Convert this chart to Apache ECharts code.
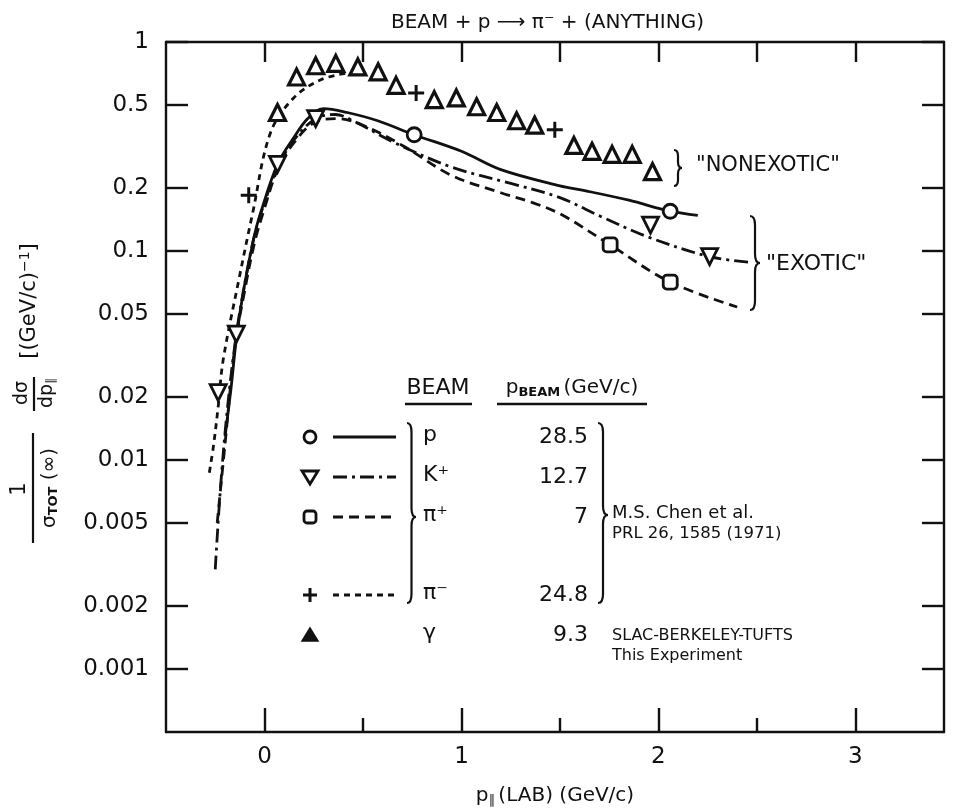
<!DOCTYPE html>
<html><head><meta charset="utf-8">
<script src="https://cdn.jsdelivr.net/npm/echarts@6/dist/echarts.min.js"></script>
<style>html,body{margin:0;padding:0;background:#fff}#c{width:958px;height:811px}</style>
</head><body><div id="c"></div>
<script>
// ---------------- data ----------------
const yTicks = [0.001, 0.002, 0.005, 0.01, 0.02, 0.05, 0.1, 0.2, 0.5, 1];
const xMajor = [0, 1, 2, 3];
const xMinor = [0.5, 1.5, 2.5];
const xTop = [0, 0.5, 1, 1.5, 2, 2.5, 3];

// data points (markers)
const pX = [0.76, 2.06];
const pY = [0.36, 0.155];
const kX = [-0.235, -0.143, 0.066, 0.26, 1.96, 2.26];
const kY = [0.021, 0.04, 0.26, 0.43, 0.133, 0.094];
const pipX = [1.755, 2.06];
const pipY = [0.107, 0.071];
const pimX = [-0.08, 0.77, 1.474];
const pimY = [0.185, 0.57, 0.38];
const gX = [0.066, 0.163, 0.26, 0.362, 0.474, 0.577, 0.668, 0.862, 0.974, 1.077, 1.179, 1.28, 1.372, 1.571, 1.663, 1.765, 1.867, 1.97];
const gY = [0.46, 0.68, 0.77, 0.79, 0.76, 0.72, 0.62, 0.53, 0.54, 0.49, 0.46, 0.42, 0.40, 0.32, 0.30, 0.29, 0.29, 0.24];

// fitted curves
const pCurveX = [-0.2, -0.17, -0.14, -0.1, -0.05, -0.02, 0.066, 0.15, 0.22, 0.3, 0.42, 0.575, 0.76, 1.0, 1.2, 1.5, 1.62, 1.85, 2.06, 2.2];
const pCurveY = [0.013, 0.022, 0.04, 0.07, 0.12, 0.152, 0.26, 0.35, 0.43, 0.48, 0.46, 0.42, 0.36, 0.30, 0.245, 0.205, 0.195, 0.175, 0.155, 0.148];
const kCurveX = [-0.25, -0.224, -0.19, -0.143, -0.1, -0.05, 0.0, 0.066, 0.15, 0.26, 0.36, 0.45, 0.66, 0.95, 1.255, 1.5, 1.71, 1.945, 2.26, 2.48];
const kCurveY = [0.003, 0.0072, 0.017, 0.04, 0.07, 0.12, 0.17, 0.25, 0.34, 0.43, 0.45, 0.42, 0.33, 0.252, 0.21, 0.18, 0.146, 0.117, 0.094, 0.088];
const pipCurveX = [-0.24, -0.2, -0.15, -0.1, -0.05, 0.0, 0.07, 0.15, 0.25, 0.37, 0.5, 0.7, 0.95, 1.2, 1.364, 1.51, 1.755, 2.06, 2.4];
const pipCurveY = [0.005, 0.012, 0.035, 0.065, 0.11, 0.16, 0.25, 0.33, 0.41, 0.43, 0.40, 0.32, 0.23, 0.19, 0.17, 0.149, 0.107, 0.071, 0.054];
const pimCurveX = [-0.28, -0.26, -0.235, -0.21, -0.13, -0.06, 0.03, 0.148, 0.286, 0.42];
const pimCurveY = [0.0087, 0.0115, 0.018, 0.030, 0.073, 0.152, 0.367, 0.54, 0.66, 0.71];

// legend table text
const beamNames = ['p', 'K⁺', 'π⁺', 'π⁻', 'γ'];
const beamMomenta = ['28.5', '12.7', '7', '24.8', '9.3'];

// ---------------- chart ----------------
const FONT = 'DejaVu Sans';
const INK = '#111';
const chart = echarts.init(document.getElementById('c'));

const pair = (xs, ys) => xs.map((x, i) => [x, ys[i]]);
function curve(xs, ys, dash) {
  return { type: 'line', data: pair(xs, ys), symbol: 'none', smooth: 0.35, silent: true,
    lineStyle: { color: INK, width: 2.8, type: dash }, z: 2 };
}
function marks(xs, ys, symbol, size, rotate, fill, bw) {
  return { type: 'scatter', data: pair(xs, ys), symbol, symbolSize: size, symbolRotate: rotate, silent: true,
    itemStyle: { color: fill, borderColor: INK, borderWidth: bw, opacity: 1 }, z: 5 };
}
const PLUS = 'path://M-1.3,-7 L1.3,-7 L1.3,-1.3 L7,-1.3 L7,1.3 L1.3,1.3 L1.3,7 L-1.3,7 L-1.3,1.3 L-7,1.3 L-7,-1.3 L-1.3,-1.3 Z';

function brace(x0, y1, y2, ym, w) {
  const xm = x0 + w / 2, r = Math.min(9, (ym - y1) / 3, (y2 - ym) / 3);
  const st = { stroke: INK, lineWidth: 2.2, fill: null };
  return [
    { type: 'bezierCurve', shape: { x1: x0, y1: y1, cpx1: xm, cpy1: y1, x2: xm, y2: y1 + r }, style: st },
    { type: 'line', shape: { x1: xm, y1: y1 + r, x2: xm, y2: ym - r }, style: st },
    { type: 'bezierCurve', shape: { x1: xm, y1: ym - r, cpx1: xm, cpy1: ym, x2: x0 + w, y2: ym }, style: st },
    { type: 'bezierCurve', shape: { x1: x0 + w, y1: ym, cpx1: xm, cpy1: ym, x2: xm, y2: ym + r }, style: st },
    { type: 'line', shape: { x1: xm, y1: ym + r, x2: xm, y2: y2 - r }, style: st },
    { type: 'bezierCurve', shape: { x1: xm, y1: y2 - r, cpx1: xm, cpy1: y2, x2: x0, y2: y2 }, style: st }
  ];
}
function txt(x, y, text, size, align, extra) {
  return Object.assign({ type: 'text', x, y, style: { text, fontSize: size, fontFamily: FONT, fill: INK,
    align: align || 'left', verticalAlign: 'middle' } }, extra || {});
}
function seg(x1, y1, x2, y2, dash, w) {
  return { type: 'line', shape: { x1, y1, x2, y2 }, style: { stroke: INK, lineWidth: w || 2.6, lineDash: dash } };
}

const rowsY = [437, 477, 517, 595, 635];
const dashes = [null, [14, 5, 3, 5], [10, 6], [6, 5]];
const g = [];
// legend header
g.push(txt(438, 388, 'BEAM', 22, 'center'));
g.push(seg(405, 404, 472, 404, null, 2.6));
g.push({ type: 'text', x: 572, y: 388, style: { text: '{a|p}{s|BEAM} {a|(GeV/c)}', fill: INK, align: 'center', verticalAlign: 'middle',
  rich: { a: { fontSize: 20, fontFamily: FONT, fill: INK }, s: { fontSize: 13, fontFamily: FONT, fill: INK, padding: [10, 0, 0, 0], fontWeight: 'bold' } } } });
g.push(seg(497, 404, 647, 404, null, 2.6));
// legend symbols
g.push({ type: 'circle', shape: { cx: 310, cy: rowsY[0], r: 6 }, style: { fill: '#fff', stroke: INK, lineWidth: 2.8 } });
g.push({ type: 'polygon', shape: { points: [[302, rowsY[1] - 6], [318, rowsY[1] - 6], [310, rowsY[1] + 7]] }, style: { fill: '#fff', stroke: INK, lineWidth: 2.8 } });
g.push({ type: 'rect', shape: { x: 304, y: rowsY[2] - 6, width: 12, height: 12, r: 3 }, style: { fill: '#fff', stroke: INK, lineWidth: 2.8 } });
g.push(seg(303, rowsY[3], 317, rowsY[3], null, 3));
g.push(seg(310, rowsY[3] - 7, 310, rowsY[3] + 7, null, 3));
g.push({ type: 'polygon', shape: { points: [[302, rowsY[4] + 6], [318, rowsY[4] + 6], [310, rowsY[4] - 7]] }, style: { fill: INK, stroke: INK, lineWidth: 1.5 } });
for (let i = 0; i < 4; i++) g.push(seg(333, rowsY[i], 396, rowsY[i], dashes[i], 2.8));
for (let i = 0; i < 5; i++) {
  g.push(txt(423, rowsY[i] - 2, beamNames[i], 22, 'left'));
  g.push(txt(588, rowsY[i], beamMomenta[i], 22, 'right'));
}
brace(407, 423, 603, 517, 9).forEach(e => g.push(e));
brace(598, 423, 603, 515, 10).forEach(e => g.push(e));
g.push(txt(612, 513, 'M.S. Chen et al.', 18, 'left'));
g.push(txt(612, 534, 'PRL 26, 1585 (1971)', 16.5, 'left'));
g.push(txt(612, 636, 'SLAC-BERKELEY-TUFTS', 16, 'left'));
g.push(txt(612, 656, 'This Experiment', 16, 'left'));
// region labels
brace(674, 150, 186, 168, 8).forEach(e => g.push(e));
g.push(txt(696, 166, '"NONEXOTIC"', 21, 'left'));
brace(750, 216, 310, 263, 10).forEach(e => g.push(e));
g.push(txt(766, 264, '"EXOTIC"', 22, 'left'));
// y axis title pieces (rotated)
const R = Math.PI / 2;
g.push({ type: 'text', x: 30, y: 301, rotation: R, style: { text: '{a|[(GeV/c)}{s|−1}{a|]}', align: 'center', verticalAlign: 'middle', fill: INK,
  rich: { a: { fontSize: 21, fontFamily: FONT, fill: INK }, s: { fontSize: 14, fontFamily: FONT, fill: INK, padding: [0, 0, 10, 0] } } } });
g.push(txt(22, 393, 'dσ', 19, 'center', { rotation: R }));
g.push(seg(34, 377, 34, 411, null, 2.2));
g.push({ type: 'text', x: 47, y: 393, rotation: R, style: { text: '{a|dp}{s|∥}', align: 'center', verticalAlign: 'middle', fill: INK,
  rich: { a: { fontSize: 19, fontFamily: FONT, fill: INK }, s: { fontSize: 12, fontFamily: FONT, fill: INK, padding: [8, 0, 0, 0] } } } });
g.push(txt(20, 489, '1', 21, 'center', { rotation: R }));
g.push(seg(33, 433, 33, 543, null, 2.2));
g.push({ type: 'text', x: 50, y: 488, rotation: R, style: { text: '{a|σ}{s|TOT}{a| (∞)}', align: 'center', verticalAlign: 'middle', fill: INK,
  rich: { a: { fontSize: 20, fontFamily: FONT, fill: INK }, s: { fontSize: 13, fontFamily: FONT, fill: INK, padding: [8, 0, 0, 0], fontWeight: 'bold' } } } });

const axisLineStyle = { color: INK, width: 2.4 };
const tickStyle = { color: INK, width: 2.4 };
const fmtY = v => String(parseFloat((+v).toPrecision(6)));

chart.setOption({
  animation: false,
  backgroundColor: '#fff',
  title: { text: 'BEAM + p ⟶ π⁻ + (ANYTHING)', left: 386, top: 8,
    textStyle: { fontFamily: FONT, fontSize: 20, fontWeight: 'normal', color: INK } },
  grid: [
    { left: 166, right: 14, top: 42, bottom: 79, outerBoundsMode: 'none', containLabel: false },
    { left: 166, right: 14, top: 42, bottom: 79, outerBoundsMode: 'none', containLabel: false }
  ],
  xAxis: [
    { gridIndex: 0, type: 'value', min: -0.5, max: 3.45, position: 'bottom',
      axisLine: { onZero: false, lineStyle: axisLineStyle },
      axisTick: { inside: true, length: 24, customValues: xMajor, lineStyle: tickStyle },
      axisLabel: { customValues: xMajor, color: INK, fontSize: 23, fontFamily: FONT, margin: 14 },
      splitLine: { show: false },
      name: '{a|p}{s|∥} {a|(LAB) (GeV/c)}', nameLocation: 'middle', nameGap: 52,
      nameTextStyle: { rich: { a: { fontSize: 20, fontFamily: FONT, color: INK }, s: { fontSize: 13, fontFamily: FONT, color: INK, padding: [10, 0, 0, 0] } } } },
    { gridIndex: 0, type: 'value', min: -0.5, max: 3.45, position: 'top',
      axisLine: { onZero: false, lineStyle: axisLineStyle },
      axisTick: { inside: true, length: 20, customValues: xTop, lineStyle: tickStyle },
      axisLabel: { show: false }, splitLine: { show: false } },
    { gridIndex: 1, type: 'value', min: -0.5, max: 3.45, position: 'bottom',
      axisLine: { show: false },
      axisTick: { inside: true, length: 14, customValues: xMinor, lineStyle: tickStyle },
      axisLabel: { show: false }, splitLine: { show: false } }
  ],
  yAxis: [
    { gridIndex: 0, type: 'log', min: 0.0005, max: 1, position: 'left',
      axisLine: { onZero: false, lineStyle: axisLineStyle },
      axisTick: { inside: true, length: 22, customValues: yTicks, lineStyle: tickStyle },
      axisLabel: { customValues: yTicks, formatter: fmtY, color: INK, fontSize: 23, fontFamily: FONT, margin: 17 },
      splitLine: { show: false }, minorTick: { show: false } },
    { gridIndex: 0, type: 'log', min: 0.0005, max: 1, position: 'right',
      axisLine: { onZero: false, lineStyle: axisLineStyle },
      axisTick: { inside: true, length: 22, customValues: yTicks, lineStyle: tickStyle },
      axisLabel: { show: false }, splitLine: { show: false } },
    { gridIndex: 1, type: 'value', min: 0, max: 1, show: false }
  ],
  series: [
    curve(pCurveX, pCurveY, 'solid'),
    curve(kCurveX, kCurveY, [14, 5, 3, 5]),
    curve(pipCurveX, pipCurveY, [10, 6]),
    curve(pimCurveX, pimCurveY, [6, 5]),
    marks(pX, pY, 'circle', 14, 0, '#fff', 2.8),
    marks(kX, kY, 'triangle', 16, 180, '#fff', 2.8),
    marks(pipX, pipY, 'roundRect', 14, 0, '#fff', 2.8),
    marks(pimX, pimY, PLUS, 16, 0, INK, 0),
    marks(gX, gY, 'triangle', 16, 0, '#fff', 3.2)
  ],
  graphic: { elements: g }
});
</script>
</body></html>
